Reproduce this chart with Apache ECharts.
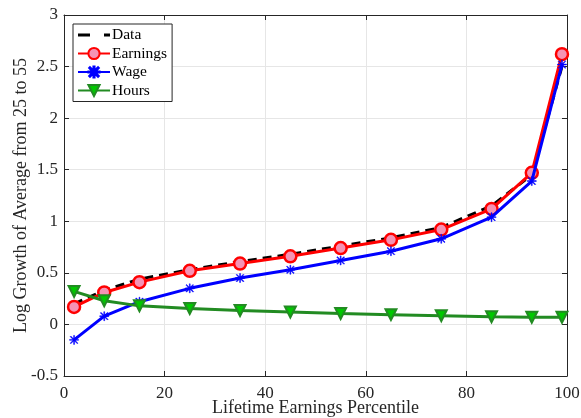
<!DOCTYPE html>
<html>
<head>
<meta charset="utf-8">
<script src="https://cdn.jsdelivr.net/npm/echarts@6/dist/echarts.min.js"></script>
<style>html,body{margin:0;padding:0;background:#fff;}#c{width:581px;height:418px;}</style>
</head>
<body>
<div id="c"></div>
<script>
const percentiles = [2, 8, 15, 25, 35, 45, 55, 65, 75, 85, 93, 99];
const dataSeries = [0.20, 0.33, 0.44, 0.53, 0.61, 0.68, 0.76, 0.84, 0.94, 1.15, 1.45, 2.50];
const earnings   = [0.17, 0.31, 0.41, 0.52, 0.59, 0.66, 0.74, 0.82, 0.92, 1.12, 1.47, 2.62];
const wage       = [-0.15, 0.08, 0.22, 0.35, 0.45, 0.53, 0.62, 0.71, 0.83, 1.04, 1.39, 2.52];
const hours      = [0.32, 0.23, 0.18, 0.155, 0.135, 0.12, 0.105, 0.095, 0.085, 0.075, 0.07, 0.07];
const yTickLabels = {'3':'3','2.5':'2.5','2':'2','1.5':'1.5','1':'1','0.5':'0.5','0':'0','-0.5':'-0.5'};

const font = 'Liberation Serif';
const pair = arr => percentiles.map((p, i) => [p, arr[i]]);
const asterisk = 'path://M9 0L11 0L11 20L9 20Z M0 9L20 9L20 11L0 11Z M1.4 2.8L2.8 1.4L18.6 17.2L17.2 18.6Z M17.2 1.4L18.6 2.8L2.8 18.6L1.4 17.2Z';
const dashIcon = 'path://M0 0h12v3H0z M26 0h6v3H26z';

const chart = echarts.init(document.getElementById('c'), null, {renderer: 'canvas'});
const axisCommon = {
  axisLine: {show: true, onZero: false, lineStyle: {color: '#262626', width: 1}},
  axisTick: {show: true, inside: true, length: 5, lineStyle: {color: '#262626'}},
};
chart.setOption({
  animation: false,
  backgroundColor: '#fff',
  grid: {left: 64, right: 14, top: 15, bottom: 42, containLabel: false, outerBoundsMode: 'none'},
  legend: {
    left: 73, top: 24, orient: 'vertical',
    itemWidth: 32, itemHeight: 14, itemGap: 2.5,
    padding: [3, 5, 3, 4],
    borderColor: '#262626', borderWidth: 1, backgroundColor: '#fff',
    symbolKeepAspect: true,
    textStyle: {fontFamily: font, fontSize: 15.5, color: '#000', padding: [0, 0, 0, -3]},
    data: [{name: 'Data', icon: dashIcon}, 'Earnings', 'Wage', 'Hours']
  },
  xAxis: [{
    type: 'value', min: 0, max: 100, interval: 20,
    name: 'Lifetime Earnings Percentile', nameLocation: 'middle', nameGap: 23, nameMoveOverlap: false,
    nameTextStyle: {fontFamily: font, fontSize: 18, color: '#262626'},
    axisLabel: {fontFamily: font, fontSize: 17, color: '#262626', margin: 9},
    splitLine: {show: true, lineStyle: {color: '#e6e6e6', width: 1}},
    ...axisCommon
  }, {
    type: 'value', min: 0, max: 100, interval: 20, position: 'top',
    axisLabel: {show: false}, splitLine: {show: false},
    ...axisCommon
  }],
  yAxis: [{
    type: 'value', min: -0.5, max: 3, interval: 0.5,
    name: 'Log Growth of Average from 25 to 55', nameLocation: 'middle', nameGap: 34, nameMoveOverlap: false,
    nameTextStyle: {fontFamily: font, fontSize: 18, color: '#262626'},
    axisLabel: {fontFamily: font, fontSize: 17, color: '#262626', margin: 6,
      formatter: v => yTickLabels[String(v)] !== undefined ? yTickLabels[String(v)] : String(v)},
    splitLine: {show: true, lineStyle: {color: '#e6e6e6', width: 1}},
    ...axisCommon
  }, {
    type: 'value', min: -0.5, max: 3, interval: 0.5, position: 'right',
    axisLabel: {show: false}, splitLine: {show: false},
    ...axisCommon
  }],
  series: [
    {
      name: 'Data', type: 'line', data: pair(dataSeries), symbol: 'none',
      lineStyle: {color: '#000', width: 3, type: [9, 6]},
      itemStyle: {color: '#000'}, z: 2
    },
    {
      name: 'Earnings', type: 'line', data: pair(earnings), symbol: 'circle', symbolSize: 12,
      lineStyle: {color: '#ff0000', width: 3},
      itemStyle: {color: '#f593b5', borderColor: '#ff0000', borderWidth: 2.5}, z: 3
    },
    {
      name: 'Wage', type: 'line', data: pair(wage), symbol: asterisk, symbolSize: 9,
      lineStyle: {color: '#0000ff', width: 3},
      itemStyle: {color: '#0000ff', borderColor: '#0000ff', borderWidth: 0.5}, z: 4
    },
    {
      name: 'Hours', type: 'line', data: pair(hours), symbol: 'triangle', symbolRotate: 180, symbolSize: 11,
      lineStyle: {color: '#228b22', width: 3},
      itemStyle: {color: '#00c800', borderColor: '#228b22', borderWidth: 2}, z: 5
    }
  ]
});
</script>
</body>
</html>
